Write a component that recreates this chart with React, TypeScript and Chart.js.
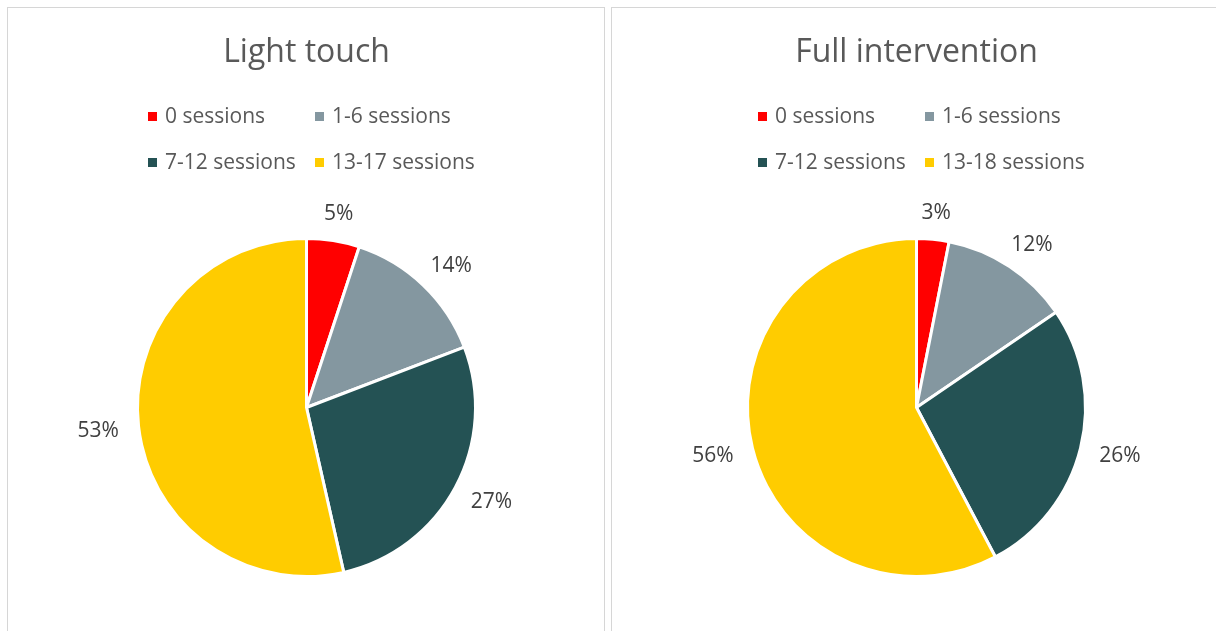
import React, { useEffect, useRef } from 'react';
import { Chart, registerables } from 'chart.js';

Chart.register(...registerables);

const chartTitles = ['Light touch', 'Full intervention'];
const lightTouchCategories = ['0 sessions', '1-6 sessions', '7-12 sessions', '13-17 sessions'];
const fullInterventionCategories = ['0 sessions', '1-6 sessions', '7-12 sessions', '13-18 sessions'];
const lightTouchValues = [5, 14, 27, 53];
const fullInterventionValues = [3, 12, 26, 56];
const sliceColors = ['#FF0000', '#8497A0', '#245254', '#FFCC00'];

const FONT = '"Open Sans", "Noto Sans", sans-serif';

const decorPlugin = {
  id: 'decor',
  afterDraw(chart: any, _args: any, opts: any) {
    const ctx: CanvasRenderingContext2D = chart.ctx;
    const meta = chart.getDatasetMeta(0);
    if (!meta.data.length) return;
    const first = meta.data[0];
    const cx = first.x;
    const cy = first.y;
    const r = first.outerRadius;
    const labels: string[] = chart.data.labels;
    const values: number[] = chart.data.datasets[0].data;
    const colors: string[] = chart.data.datasets[0].backgroundColor;
    ctx.save();
    // title
    ctx.font = `32px ${FONT}`;
    ctx.fillStyle = '#595959';
    ctx.textAlign = 'center';
    ctx.textBaseline = 'alphabetic';
    ctx.fillText(opts.title, cx, 54);
    // legend in a 2x2 grid
    ctx.font = `21px ${FONT}`;
    ctx.textAlign = 'left';
    labels.forEach((lab, i) => {
      const col = i % 2;
      const row = Math.floor(i / 2);
      const bx = cx + (col === 0 ? -159 : 8.5);
      const by = row === 0 ? 104 : 150;
      ctx.fillStyle = colors[i];
      ctx.fillRect(Math.round(bx), by, 9, 9);
      ctx.fillStyle = '#595959';
      ctx.fillText(lab, Math.round(bx) + 17, row === 0 ? 115 : 161);
    });
    // data labels outside end
    ctx.font = `21px ${FONT}`;
    ctx.fillStyle = '#404040';
    ctx.textAlign = 'center';
    meta.data.forEach((arc: any, i: number) => {
      const mid = (arc.startAngle + arc.endAngle) / 2;
      const c = Math.cos(mid);
      const s = Math.sin(mid);
      const text = `${values[i]}%`;
      const w = ctx.measureText(text).width;
      const hh = 8;
      const d = r + 20;
      const x = cx + d * c + (w / 2) * c;
      const y = cy + d * s + hh * s;
      ctx.fillText(text, x, y + 7.5);
    });
    ctx.restore();
  },
};

function PieChart(props: {
  title: string;
  labels: string[];
  values: number[];
  width: number;
  height: number;
  padLeft: number;
}) {
  const ref = useRef<HTMLCanvasElement>(null);
  useEffect(() => {
    if (!ref.current) return;
    const side = 341;
    const top = 229;
    const chart = new Chart(ref.current, {
      type: 'pie',
      data: {
        labels: props.labels,
        datasets: [
          {
            data: props.values,
            backgroundColor: sliceColors,
            borderColor: '#FFFFFF',
            borderWidth: 3,
          },
        ],
      },
      options: {
        responsive: false,
        animation: false,
        layout: {
          padding: {
            left: props.padLeft,
            right: props.width - props.padLeft - side,
            top: top,
            bottom: props.height - top - side,
          },
        },
        plugins: {
          legend: { display: false },
          tooltip: { enabled: false },
          title: { display: false },
          decor: { title: props.title },
        } as any,
      },
      plugins: [decorPlugin as any],
    });
    return () => chart.destroy();
  }, []);
  return <canvas ref={ref} width={props.width} height={props.height} style={{ display: 'block' }} />;
}

export default function App() {
  const panel: React.CSSProperties = {
    position: 'absolute',
    top: 7,
    height: 640,
    border: '1px solid #d6d6d6',
    boxSizing: 'border-box',
    background: '#ffffff',
    overflow: 'hidden',
  };
  return (
    <div style={{ position: 'absolute', left: 0, top: 0, width: 1216, height: 631, overflow: 'hidden', background: '#fff' }}>
      <div style={{ ...panel, left: 7, width: 598 }}>
        <PieChart title={chartTitles[0]} labels={lightTouchCategories} values={lightTouchValues} width={596} height={623} padLeft={128} />
      </div>
      <div style={{ ...panel, left: 611, width: 620 }}>
        <PieChart title={chartTitles[1]} labels={fullInterventionCategories} values={fullInterventionValues} width={604} height={623} padLeft={134} />
      </div>
    </div>
  );
}
